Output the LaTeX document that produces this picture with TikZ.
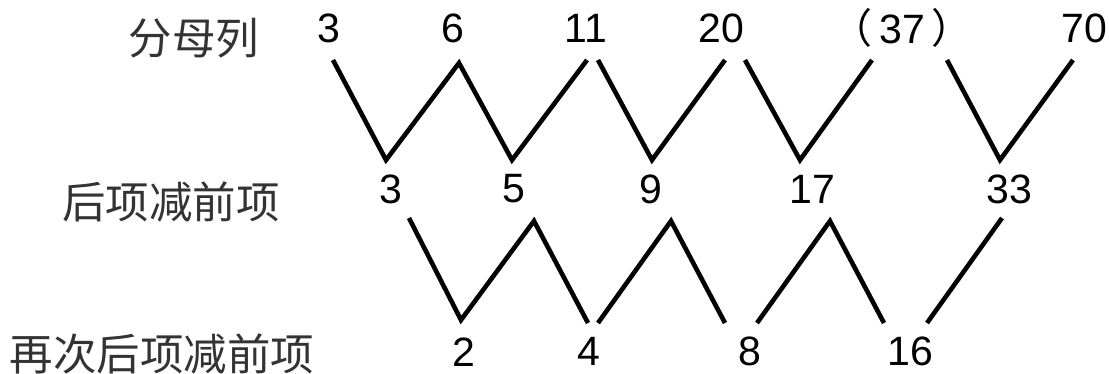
\documentclass[tikz,border=0pt]{standalone}
\usepackage{fontspec}
\setmainfont{Liberation Sans}
\newfontfamily\cjk{Noto Sans CJK SC}
\begin{document}
\begin{tikzpicture}[x=1pt,y=-1pt,
  num/.style={font=\fontsize{41}{41}\selectfont, inner sep=0pt, anchor=center},
  lab/.style={font=\cjk\fontsize{43.5}{43.5}\selectfont, inner sep=0pt, anchor=center, text=black!80},
  zig/.style={line width=4.6pt, line join=miter, line cap=butt}]
\useasboundingbox (0,0) rectangle (1109,374);
% labels
\node[lab] (l1) at (194,38) {分母列};
\node[lab] (l2) at (171,202) {后项减前项};
\node[lab] (l3) at (162,354) {再次后项减前项};
% top row
\node[num] (t1) at (329,28) {3};
\node[num] (t2) at (453,28) {6};
\node[num] (t3) at (586,28) {11};
\node[num] (t4) at (721,28) {20};
\node[num] (t5) at (902,28) {{\cjk （}\hspace{6.5pt}37\hspace{6.5pt}{\cjk ）}};
\node[num] (t6) at (1084,28) {70};
% middle row
\node[num] (m1) at (391,189) {3};
\node[num] (m2) at (514,189) {5};
\node[num] (m3) at (651,189) {9};
\node[num] (m4) at (812,189) {17};
\node[num] (m5) at (1009,189) {33};
% bottom row
\node[num] (b1) at (464,352) {2};
\node[num] (b2) at (589,351) {4};
\node[num] (b3) at (750,351) {8};
\node[num] (b4) at (910,351) {16};
% vertices, top zigzag
\coordinate (a1) at (333,60);
\coordinate (a2) at (386,160);
\coordinate (a3) at (459,63);
\coordinate (a4) at (512,160);
\coordinate (a5) at (587,60);
\coordinate (c1) at (598,60);
\coordinate (c2) at (652,160);
\coordinate (c3) at (725,60);
\coordinate (d1) at (745,60);
\coordinate (d2) at (800,160);
\coordinate (d3) at (872,60);
\coordinate (e1) at (947,60);
\coordinate (e2) at (1000,160);
\coordinate (e3) at (1073,60);
% vertices, middle zigzag
\coordinate (f1) at (409,218);
\coordinate (f2) at (461,320);
\coordinate (f3) at (534,221);
\coordinate (f4) at (588,323);
\coordinate (g1) at (598,323);
\coordinate (g2) at (671,221);
\coordinate (g3) at (725,323);
\coordinate (h1) at (757,323);
\coordinate (h2) at (830,221);
\coordinate (h3) at (884,323);
\coordinate (k1) at (927,323);
\coordinate (k2) at (1002,218);
% connectors
\draw[zig] (a1) -- (a2) -- (a3) -- (a4) -- (a5);
\draw[zig] (c1) -- (c2) -- (c3);
\draw[zig] (d1) -- (d2) -- (d3);
\draw[zig] (e1) -- (e2) -- (e3);
\draw[zig] (f1) -- (f2) -- (f3) -- (f4);
\draw[zig] (g1) -- (g2) -- (g3);
\draw[zig] (h1) -- (h2) -- (h3);
\draw[zig] (k1) -- (k2);
\end{tikzpicture}
\end{document}
